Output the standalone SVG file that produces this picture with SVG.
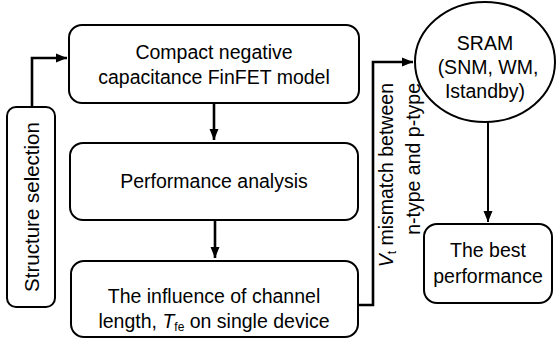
<svg xmlns="http://www.w3.org/2000/svg" width="556" height="339" viewBox="0 0 556 339">
<style>
.box{fill:#fff;stroke:#000;stroke-width:2}
.t{font-family:"Liberation Sans",Arial,sans-serif;font-size:19.5px;fill:#000;text-anchor:middle}
.c{fill:none;stroke:#000;stroke-width:2.6}
</style>
<defs>
<marker id="ah" markerUnits="userSpaceOnUse" markerWidth="12" markerHeight="12" viewBox="0 0 12 12" refX="11" refY="6" orient="auto">
<path d="M0,1.5 L11,6 L0,10.5 Z" fill="#000"/>
</marker>
</defs>
<g id="connectors">
<polyline class="c" points="32,107 32,58 67,58" marker-end="url(#ah)"/>
<line class="c" x1="214" y1="103" x2="214" y2="140" marker-end="url(#ah)"/>
<line class="c" x1="215" y1="220" x2="215" y2="258" marker-end="url(#ah)"/>
<polyline class="c" points="358,305 373,305 373,62 413,62" marker-end="url(#ah)"/>
<line class="c" x1="488" y1="122" x2="488" y2="222" marker-end="url(#ah)" style="stroke-width:2"/>
</g>
<g id="structure">
<rect class="box" x="7" y="107" width="48" height="200" rx="9"/>
<text class="t" style="font-size:20.5px" transform="translate(39,207) rotate(-90)">Structure selection</text>
</g>
<g id="model">
<rect class="box" x="69" y="25" width="290" height="78" rx="13"/>
<text class="t" x="214" y="59">Compact negative</text>
<text class="t" x="214" y="84">capacitance FinFET model</text>
</g>
<g id="performance">
<rect class="box" x="70" y="143" width="288" height="77" rx="13"/>
<text class="t" x="214" y="188">Performance analysis</text>
</g>
<g id="influence">
<rect class="box" x="71" y="261" width="287" height="76" rx="13"/>
<text class="t" x="214" y="303">The influence of channel</text>
<text class="t" x="214" y="328">length, <tspan font-style="italic">T</tspan><tspan font-size="12" dy="3">fe</tspan><tspan dy="-3"> on single device</tspan></text>
</g>
<g id="mismatch-label">
<text class="t" style="text-anchor:end" transform="translate(393,83) rotate(-90)"><tspan font-style="italic">V</tspan><tspan font-size="12" dy="3">t</tspan><tspan dy="-3"> mismatch between</tspan></text>
<text class="t" style="text-anchor:end" transform="translate(420,83) rotate(-90)">n-type and p-type</text>
</g>
<g id="sram">
<ellipse class="box" cx="485" cy="62" rx="70" ry="60"/>
<text class="t" x="485" y="50">SRAM</text>
<text class="t" x="488" y="74">(SNM, WM,</text>
<text class="t" x="485" y="98">Istandby)</text>
</g>
<g id="best">
<rect class="box" x="424" y="224" width="128" height="79" rx="13"/>
<text class="t" x="488" y="257">The best</text>
<text class="t" x="488" y="283">performance</text>
</g>
</svg>
